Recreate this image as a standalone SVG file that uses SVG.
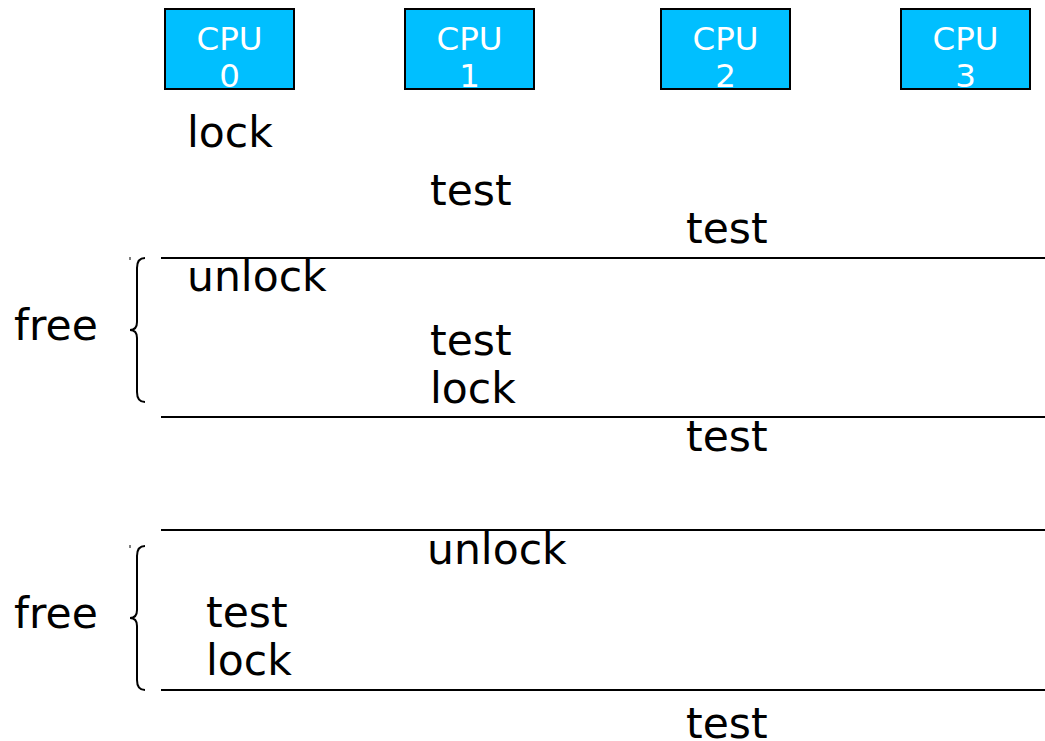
<svg xmlns="http://www.w3.org/2000/svg" width="1045" height="741" viewBox="0 0 1045 741">
<style>
.cpu rect{fill:#00bfff;stroke:#000;stroke-width:2}
.cpu text{fill:#fff;font-family:"DejaVu Sans",sans-serif;font-size:32.5px;text-anchor:middle}
.lbl{font-family:"DejaVu Sans",sans-serif;font-size:42.5px;fill:#000}
.ln{stroke:#000;stroke-width:2;fill:none}
.br{stroke:#000;stroke-width:2;fill:none}
</style>
<rect width="1045" height="741" fill="#fff"/>
<g id="cpu0" class="cpu"><rect x="165" y="9" width="129" height="80"/><text x="229.5" y="50">CPU</text><text x="229.5" y="87">0</text></g>
<g id="cpu1" class="cpu"><rect x="405" y="9" width="129" height="80"/><text x="469.5" y="50">CPU</text><text x="469.5" y="87">1</text></g>
<g id="cpu2" class="cpu"><rect x="661" y="9" width="129" height="80"/><text x="725.5" y="50">CPU</text><text x="725.5" y="87">2</text></g>
<g id="cpu3" class="cpu"><rect x="901" y="9" width="129" height="80"/><text x="965.5" y="50">CPU</text><text x="965.5" y="87">3</text></g>
<g id="connectors">
<line class="ln" x1="161" y1="258" x2="1045" y2="258"/>
<line class="ln" x1="161" y1="417" x2="1045" y2="417"/>
<line class="ln" x1="161" y1="530" x2="1045" y2="530"/>
<line class="ln" x1="161" y1="690" x2="1045" y2="690"/>
<path class="br" d="M145,258 Q137,258 137,268 L137,322 Q137,330 130,330 Q137,330 137,338 L137,392 Q137,402 145,402"/>
<path class="br" d="M145,546 Q137,546 137,556 L137,610 Q137,618 130,618 Q137,618 137,626 L137,680 Q137,690 145,690"/>
<line x1="130" y1="257" x2="130" y2="260" stroke="#000" stroke-width="1"/>
<line x1="130" y1="545" x2="130" y2="548" stroke="#000" stroke-width="1"/>
</g>
<g id="labels">
<text class="lbl" x="187" y="147">lock</text>
<text class="lbl" x="430" y="205">test</text>
<text class="lbl" x="686" y="243">test</text>
<text class="lbl" x="187" y="291">unlock</text>
<text class="lbl" x="430" y="355">test</text>
<text class="lbl" x="430" y="403">lock</text>
<text class="lbl" x="686" y="451">test</text>
<text class="lbl" x="427" y="564">unlock</text>
<text class="lbl" x="206" y="627">test</text>
<text class="lbl" x="206" y="675">lock</text>
<text class="lbl" x="686" y="738">test</text>
<text class="lbl" x="14" y="340">free</text>
<text class="lbl" x="14" y="628">free</text>
</g>
</svg>
